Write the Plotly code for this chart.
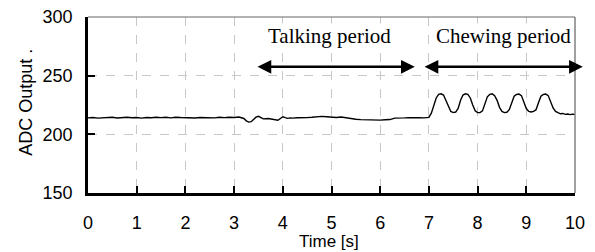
import plotly.graph_objects as go

# ---- data ----
time_s = [
    0.0, 0.1, 0.2, 0.3, 0.4, 0.5, 0.6, 0.7, 0.8, 0.9,
    1.0, 1.1, 1.2, 1.3, 1.4, 1.5, 1.6, 1.7, 1.8, 1.9,
    2.0, 2.1, 2.2, 2.3, 2.4, 2.5, 2.6, 2.7, 2.8, 2.9,
    3.0, 3.1, 3.2, 3.25, 3.3, 3.35, 3.4, 3.45, 3.5, 3.55, 3.6, 3.7, 3.8, 3.9, 3.95,
    4.0, 4.05, 4.1, 4.15, 4.2, 4.3, 4.4, 4.5, 4.6, 4.7, 4.8, 4.9, 5.0, 5.1, 5.2, 5.3, 5.4,
    5.5, 5.6, 5.7, 5.8, 5.9, 6.0, 6.1, 6.2, 6.3, 6.4, 6.5, 6.6, 6.7, 6.8, 6.9, 6.95,
    7.0, 7.05, 7.1, 7.15, 7.2, 7.25, 7.3, 7.35, 7.4, 7.45, 7.5, 7.55, 7.6, 7.65,
    7.7, 7.75, 7.8, 7.85, 7.9, 7.95, 8.0, 8.05, 8.1, 8.15, 8.2, 8.25, 8.3, 8.35,
    8.4, 8.45, 8.5, 8.55, 8.6, 8.65, 8.7, 8.75, 8.8, 8.85, 8.9, 8.95, 9.0, 9.05,
    9.1, 9.15, 9.2, 9.25, 9.3, 9.35, 9.4, 9.45, 9.5, 9.55, 9.6, 9.65, 9.7, 9.75,
    9.8, 9.85, 9.9, 9.95, 10.0,
]
adc_output = [
    214.0, 214.3, 213.8, 214.2, 214.0, 214.5, 213.9, 214.2, 214.6, 214.1,
    214.3, 213.8, 214.4, 214.1, 214.6, 214.2, 214.5, 214.0, 214.6, 214.3,
    214.1, 214.5, 213.9, 214.3, 214.1, 214.4, 214.0, 214.5, 214.2, 214.6,
    214.3, 214.8, 213.5, 211.5, 210.4, 210.8, 212.5, 214.6, 215.4, 214.2, 213.2, 213.5, 212.8, 212.0, 213.5,
    215.0, 214.2, 213.6, 214.0, 213.8, 214.1, 213.9, 214.2, 214.5, 215.0, 215.3, 215.0, 214.6, 214.3, 214.8, 214.0, 213.4,
    212.8, 212.5, 212.3, 212.0, 212.2, 212.1, 212.4, 212.6, 213.8, 214.2, 214.0, 214.2, 213.9, 214.1, 214.0, 214.3,
    214.5, 218.0, 225.0, 231.0, 234.0, 234.5, 233.5, 229.0, 223.0, 219.5, 218.5, 219.0, 222.0, 229.0,
    233.5, 234.5, 234.0, 231.0, 225.0, 220.0, 218.5, 218.5, 220.0, 226.0, 232.0, 234.0, 234.5, 233.0,
    229.0, 223.0, 219.5, 218.5, 218.8, 221.0, 227.0, 232.5, 234.0, 234.3, 233.0, 228.0, 222.0, 219.5,
    219.0, 219.5, 221.0, 227.0, 232.5, 234.0, 234.3, 233.0, 228.0, 222.5, 219.5, 218.5, 217.5, 217.8,
    217.0, 217.3, 216.8, 217.2, 217.0,
]

x_ticks = [0, 1, 2, 3, 4, 5, 6, 7, 8, 9, 10]
y_ticks = [150, 200, 250, 300]

x_title = "Time [s]"
y_title = "ADC Output ."

period_labels = ["Talking period", "Chewing period"]
period_label_x = [4.95, 8.54]
period_label_y = [284, 284]
period_start = [3.45, 6.88]
period_end = [6.71, 10.16]
period_arrow_y = [257.6, 257.6]

# ---- figure ----
# (the page body keeps the browser's 8px default margin, so the figure is 8px smaller)
fig = go.Figure()
fig.add_trace(go.Scatter(
    x=time_s, y=adc_output, mode="lines",
    line=dict(color="black", width=1.4),
    showlegend=False, hoverinfo="skip",
))

axis_font = dict(family="Liberation Sans, Arial, sans-serif", size=18, color="black")
title_font = dict(family="Liberation Sans, Arial, sans-serif", size=17, color="black")

fig.update_layout(
    width=587, height=244,
    margin=dict(l=80, r=20, t=9, b=59, autoexpand=False),
    paper_bgcolor="white", plot_bgcolor="white",
    font=axis_font,
    xaxis=dict(
        range=[0, 10], tickvals=x_ticks, ticktext=[str(v) for v in x_ticks],
        showline=True, linecolor="black", linewidth=2.5,
        ticks="inside", ticklen=7, tickwidth=2, tickcolor="black",
        ticklabelstandoff=12, ticklabeloverflow="allow",
        showgrid=True, gridcolor="#c8c8c8", griddash="dash", gridwidth=1,
        zeroline=False, tickfont=axis_font, automargin=False,
    ),
    yaxis=dict(
        range=[150, 300], tickvals=y_ticks, ticktext=[str(v) for v in y_ticks],
        showline=True, linecolor="black", linewidth=2.5,
        ticks="inside", ticklen=7, tickwidth=2, tickcolor="black",
        ticklabelstandoff=9, ticklabeloverflow="allow",
        showgrid=True, gridcolor="#c8c8c8", griddash="dash", gridwidth=1,
        zeroline=False, tickfont=axis_font, automargin=False,
    ),
)

# axis titles
fig.add_annotation(x=0.495, y=-0.274, xref="paper", yref="paper", text=x_title,
                   showarrow=False, font=title_font, xanchor="center", yanchor="middle")
fig.add_annotation(x=-0.129, y=0.514, xref="paper", yref="paper", text=y_title,
                   showarrow=False, font=axis_font, textangle=-90,
                   xanchor="center", yanchor="middle")

# top and right frame lines (grey)
fig.add_shape(type="line", xref="paper", yref="paper", x0=0, x1=1, y0=1, y1=1,
              line=dict(color="#666666", width=1))
fig.add_shape(type="line", xref="paper", yref="paper", x0=1, x1=1, y0=0, y1=1,
              line=dict(color="#808080", width=1.5))

serif = dict(family="Liberation Serif, Times New Roman, serif", size=21, color="black")
for lab, lx, ly in zip(period_labels, period_label_x, period_label_y):
    fig.add_annotation(x=lx, y=ly, xref="x", yref="y", text=lab, showarrow=False,
                       font=serif, bgcolor="white", borderpad=0)

for x0, x1, ay in zip(period_start, period_end, period_arrow_y):
    fig.add_annotation(
        x=x1, y=ay, ax=x0, ay=ay, xref="x", yref="y", axref="x", ayref="y",
        text="", showarrow=True, arrowhead=2, startarrowhead=2,
        arrowside="end+start", arrowwidth=2.5, arrowsize=1.1, startarrowsize=1.1,
        arrowcolor="black", standoff=0, startstandoff=0,
    )

fig.write_html("out.html")
